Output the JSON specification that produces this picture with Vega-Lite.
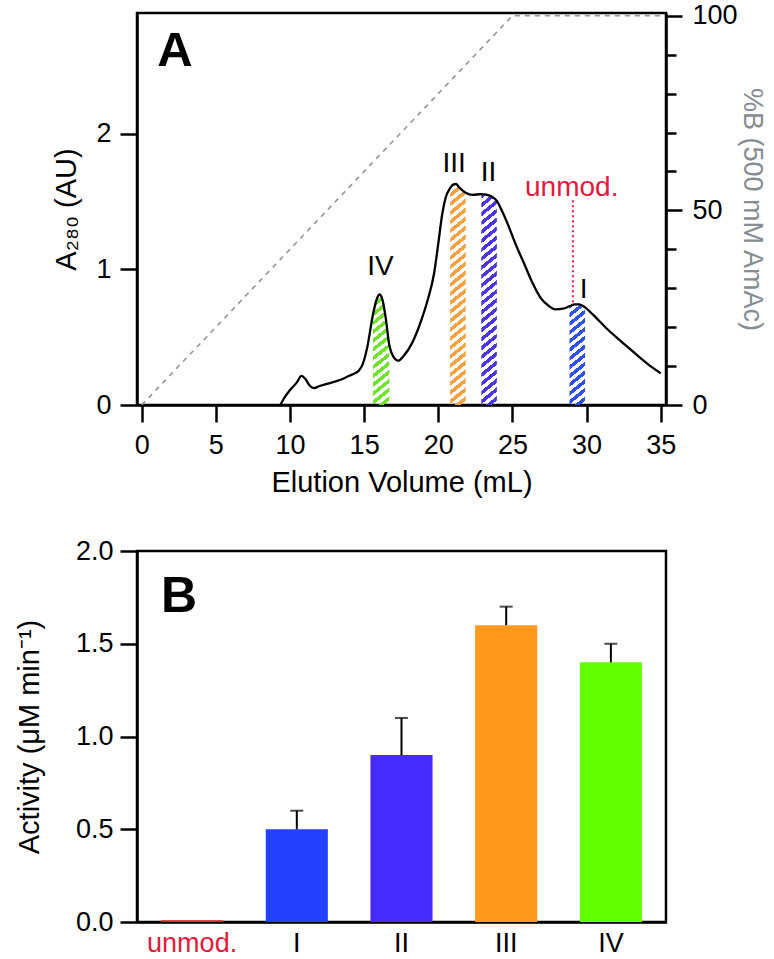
{
  "$schema": "https://vega.github.io/schema/vega-lite/v6.json",
  "background": "white",
  "padding": {"left": 14, "top": 0, "right": 0, "bottom": 0},
  "config": {
    "font": "Liberation Sans",
    "view": {"stroke": "black", "strokeWidth": 2.5},
    "axis": {"domainColor": "black", "domainWidth": 2.5, "tickColor": "black", "tickWidth": 2.5, "labelColor": "black", "titleColor": "black", "labelFont": "Liberation Sans", "titleFont": "Liberation Sans", "titleFontWeight": "normal", "labelFontSize": 27, "titleFontSize": 29, "grid": false}
  },
  "datasets": {
    "chromatogram": [
      {"volume": 9.35, "a280": 0}, {"volume": 9.6, "a280": 0.05}, {"volume": 10.0, "a280": 0.11}, {"volume": 10.45, "a280": 0.165},
      {"volume": 10.78, "a280": 0.215}, {"volume": 11.05, "a280": 0.19}, {"volume": 11.35, "a280": 0.14}, {"volume": 11.62, "a280": 0.125},
      {"volume": 12.0, "a280": 0.14}, {"volume": 12.85, "a280": 0.167}, {"volume": 13.5, "a280": 0.19}, {"volume": 14.0, "a280": 0.216},
      {"volume": 14.4, "a280": 0.235}, {"volume": 14.65, "a280": 0.255}, {"volume": 14.9, "a280": 0.3}, {"volume": 15.21, "a280": 0.425},
      {"volume": 15.6, "a280": 0.67}, {"volume": 15.85, "a280": 0.78}, {"volume": 16.05, "a280": 0.815}, {"volume": 16.25, "a280": 0.77},
      {"volume": 16.45, "a280": 0.646}, {"volume": 16.7, "a280": 0.44}, {"volume": 16.95, "a280": 0.36}, {"volume": 17.3, "a280": 0.327},
      {"volume": 17.65, "a280": 0.36}, {"volume": 18.25, "a280": 0.46}, {"volume": 18.92, "a280": 0.646}, {"volume": 19.3, "a280": 0.78},
      {"volume": 19.71, "a280": 0.966}, {"volume": 20.0, "a280": 1.19}, {"volume": 20.27, "a280": 1.41}, {"volume": 20.5, "a280": 1.53},
      {"volume": 20.8, "a280": 1.6}, {"volume": 21.0, "a280": 1.625}, {"volume": 21.2, "a280": 1.63}, {"volume": 21.45, "a280": 1.6},
      {"volume": 21.85, "a280": 1.565}, {"volume": 22.3, "a280": 1.55}, {"volume": 22.9, "a280": 1.555}, {"volume": 23.3, "a280": 1.55},
      {"volume": 23.65, "a280": 1.535}, {"volume": 23.95, "a280": 1.505}, {"volume": 24.3, "a280": 1.43}, {"volume": 24.7, "a280": 1.33},
      {"volume": 25.2, "a280": 1.19}, {"volume": 25.8, "a280": 1.04}, {"volume": 26.4, "a280": 0.89}, {"volume": 26.9, "a280": 0.79},
      {"volume": 27.46, "a280": 0.73}, {"volume": 27.9, "a280": 0.705}, {"volume": 28.4, "a280": 0.71}, {"volume": 28.85, "a280": 0.728},
      {"volume": 29.2, "a280": 0.742}, {"volume": 29.5, "a280": 0.742}, {"volume": 29.9, "a280": 0.72}, {"volume": 30.4, "a280": 0.67},
      {"volume": 31.3, "a280": 0.57}, {"volume": 32.0, "a280": 0.5}, {"volume": 32.86, "a280": 0.42}, {"volume": 33.6, "a280": 0.35},
      {"volume": 34.43, "a280": 0.277}, {"volume": 35.0, "a280": 0.233}
    ],
    "gradient": [
      {"volume": 0, "percent_b": 0}, {"volume": 25, "percent_b": 100}, {"volume": 35, "percent_b": 100}
    ],
    "peaks": [
      {"label": "IV", "volume": 16.1, "a280": 1.02},
      {"label": "III", "volume": 21.07, "a280": 1.78},
      {"label": "II", "volume": 23.39, "a280": 1.71},
      {"label": "unmod.", "volume": 29.0, "a280": 1.6},
      {"label": "I", "volume": 29.8, "a280": 0.85}
    ],
    "marker": [{"volume": 29.08, "a280": 1.51, "a280_low": 0.745}],
    "panelA": [{"label": "A", "volume": 1.05, "a280": 2.61}],
    "activity": [
      {"fraction": "unmod.", "activity": 0.01, "upper": 0.01},
      {"fraction": "I", "activity": 0.5, "upper": 0.6},
      {"fraction": "II", "activity": 0.9, "upper": 1.1},
      {"fraction": "III", "activity": 1.6, "upper": 1.7},
      {"fraction": "IV", "activity": 1.4, "upper": 1.5}
    ],
    "panelB": [{"fraction": "unmod.", "activity": 1.754, "label": "B"}]
  },
  "spacing": 36,
  "vconcat": [
    {
      "width": 529,
      "height": 392,
      "encoding": {
        "x": {"field": "volume", "type": "quantitative", "scale": {"domain": [-0.317, 35.357], "nice": false, "zero": false},
              "axis": {"values": [0, 5, 10, 15, 20, 25, 30, 35], "tickSize": 17, "labelPadding": 10, "titlePadding": 10},
              "title": "Elution Volume (mL)"}
      },
      "layer": [
        {
          "encoding": {
            "y": {"field": "a280", "type": "quantitative", "scale": {"domain": [0, 2.891], "nice": false},
                  "axis": {"values": [0, 1, 2], "format": "d", "tickSize": 17, "labelPadding": 9, "titlePadding": 14},
                  "title": "A₂₈₀ (AU)"}
          },
          "layer": [
            {
              "data": {"name": "chromatogram"},
              "transform": [{"filter": {"field": "volume", "range": [15.6, 16.7]}}],
              "mark": {"type": "area", "interpolate": "monotone", "fill": {"gradient": "linear", "x1": 0, "y1": 0, "x2": 0.1288, "y2": 1.1019, "stops": [
                {"offset": 0, "color": "#6fe22a"}, {"offset": 0.0357, "color": "#6fe22a"}, {"offset": 0.0357, "color": "transparent"}, {"offset": 0.0714, "color": "transparent"},
                {"offset": 0.0714, "color": "#6fe22a"}, {"offset": 0.1071, "color": "#6fe22a"}, {"offset": 0.1071, "color": "transparent"}, {"offset": 0.1429, "color": "transparent"},
                {"offset": 0.1429, "color": "#6fe22a"}, {"offset": 0.1786, "color": "#6fe22a"}, {"offset": 0.1786, "color": "transparent"}, {"offset": 0.2143, "color": "transparent"},
                {"offset": 0.2143, "color": "#6fe22a"}, {"offset": 0.25, "color": "#6fe22a"}, {"offset": 0.25, "color": "transparent"}, {"offset": 0.2857, "color": "transparent"},
                {"offset": 0.2857, "color": "#6fe22a"}, {"offset": 0.3214, "color": "#6fe22a"}, {"offset": 0.3214, "color": "transparent"}, {"offset": 0.3571, "color": "transparent"},
                {"offset": 0.3571, "color": "#6fe22a"}, {"offset": 0.3929, "color": "#6fe22a"}, {"offset": 0.3929, "color": "transparent"}, {"offset": 0.4286, "color": "transparent"},
                {"offset": 0.4286, "color": "#6fe22a"}, {"offset": 0.4643, "color": "#6fe22a"}, {"offset": 0.4643, "color": "transparent"}, {"offset": 0.5, "color": "transparent"},
                {"offset": 0.5, "color": "#6fe22a"}, {"offset": 0.5357, "color": "#6fe22a"}, {"offset": 0.5357, "color": "transparent"}, {"offset": 0.5714, "color": "transparent"},
                {"offset": 0.5714, "color": "#6fe22a"}, {"offset": 0.6071, "color": "#6fe22a"}, {"offset": 0.6071, "color": "transparent"}, {"offset": 0.6429, "color": "transparent"},
                {"offset": 0.6429, "color": "#6fe22a"}, {"offset": 0.6786, "color": "#6fe22a"}, {"offset": 0.6786, "color": "transparent"}, {"offset": 0.7143, "color": "transparent"},
                {"offset": 0.7143, "color": "#6fe22a"}, {"offset": 0.75, "color": "#6fe22a"}, {"offset": 0.75, "color": "transparent"}, {"offset": 0.7857, "color": "transparent"},
                {"offset": 0.7857, "color": "#6fe22a"}, {"offset": 0.8214, "color": "#6fe22a"}, {"offset": 0.8214, "color": "transparent"}, {"offset": 0.8571, "color": "transparent"},
                {"offset": 0.8571, "color": "#6fe22a"}, {"offset": 0.8929, "color": "#6fe22a"}, {"offset": 0.8929, "color": "transparent"}, {"offset": 0.9286, "color": "transparent"},
                {"offset": 0.9286, "color": "#6fe22a"}, {"offset": 0.9643, "color": "#6fe22a"}, {"offset": 0.9643, "color": "transparent"}, {"offset": 1, "color": "transparent"}
              ]}},
              "encoding": {"y2": {"datum": 0}}
            },
            {
              "data": {"name": "chromatogram"},
              "transform": [{"filter": {"field": "volume", "range": [20.8, 21.85]}}],
              "mark": {"type": "area", "interpolate": "monotone", "fill": {"gradient": "linear", "x1": 0, "y1": 0, "x2": 0.0596, "y2": 1.0533, "stops": [
                {"offset": 0, "color": "#f7a040"}, {"offset": 0.0192, "color": "#f7a040"}, {"offset": 0.0192, "color": "transparent"}, {"offset": 0.0385, "color": "transparent"},
                {"offset": 0.0385, "color": "#f7a040"}, {"offset": 0.0577, "color": "#f7a040"}, {"offset": 0.0577, "color": "transparent"}, {"offset": 0.0769, "color": "transparent"},
                {"offset": 0.0769, "color": "#f7a040"}, {"offset": 0.0962, "color": "#f7a040"}, {"offset": 0.0962, "color": "transparent"}, {"offset": 0.1154, "color": "transparent"},
                {"offset": 0.1154, "color": "#f7a040"}, {"offset": 0.1346, "color": "#f7a040"}, {"offset": 0.1346, "color": "transparent"}, {"offset": 0.1538, "color": "transparent"},
                {"offset": 0.1538, "color": "#f7a040"}, {"offset": 0.1731, "color": "#f7a040"}, {"offset": 0.1731, "color": "transparent"}, {"offset": 0.1923, "color": "transparent"},
                {"offset": 0.1923, "color": "#f7a040"}, {"offset": 0.2115, "color": "#f7a040"}, {"offset": 0.2115, "color": "transparent"}, {"offset": 0.2308, "color": "transparent"},
                {"offset": 0.2308, "color": "#f7a040"}, {"offset": 0.25, "color": "#f7a040"}, {"offset": 0.25, "color": "transparent"}, {"offset": 0.2692, "color": "transparent"},
                {"offset": 0.2692, "color": "#f7a040"}, {"offset": 0.2885, "color": "#f7a040"}, {"offset": 0.2885, "color": "transparent"}, {"offset": 0.3077, "color": "transparent"},
                {"offset": 0.3077, "color": "#f7a040"}, {"offset": 0.3269, "color": "#f7a040"}, {"offset": 0.3269, "color": "transparent"}, {"offset": 0.3462, "color": "transparent"},
                {"offset": 0.3462, "color": "#f7a040"}, {"offset": 0.3654, "color": "#f7a040"}, {"offset": 0.3654, "color": "transparent"}, {"offset": 0.3846, "color": "transparent"},
                {"offset": 0.3846, "color": "#f7a040"}, {"offset": 0.4038, "color": "#f7a040"}, {"offset": 0.4038, "color": "transparent"}, {"offset": 0.4231, "color": "transparent"},
                {"offset": 0.4231, "color": "#f7a040"}, {"offset": 0.4423, "color": "#f7a040"}, {"offset": 0.4423, "color": "transparent"}, {"offset": 0.4615, "color": "transparent"},
                {"offset": 0.4615, "color": "#f7a040"}, {"offset": 0.4808, "color": "#f7a040"}, {"offset": 0.4808, "color": "transparent"}, {"offset": 0.5, "color": "transparent"},
                {"offset": 0.5, "color": "#f7a040"}, {"offset": 0.5192, "color": "#f7a040"}, {"offset": 0.5192, "color": "transparent"}, {"offset": 0.5385, "color": "transparent"},
                {"offset": 0.5385, "color": "#f7a040"}, {"offset": 0.5577, "color": "#f7a040"}, {"offset": 0.5577, "color": "transparent"}, {"offset": 0.5769, "color": "transparent"},
                {"offset": 0.5769, "color": "#f7a040"}, {"offset": 0.5962, "color": "#f7a040"}, {"offset": 0.5962, "color": "transparent"}, {"offset": 0.6154, "color": "transparent"},
                {"offset": 0.6154, "color": "#f7a040"}, {"offset": 0.6346, "color": "#f7a040"}, {"offset": 0.6346, "color": "transparent"}, {"offset": 0.6538, "color": "transparent"},
                {"offset": 0.6538, "color": "#f7a040"}, {"offset": 0.6731, "color": "#f7a040"}, {"offset": 0.6731, "color": "transparent"}, {"offset": 0.6923, "color": "transparent"},
                {"offset": 0.6923, "color": "#f7a040"}, {"offset": 0.7115, "color": "#f7a040"}, {"offset": 0.7115, "color": "transparent"}, {"offset": 0.7308, "color": "transparent"},
                {"offset": 0.7308, "color": "#f7a040"}, {"offset": 0.75, "color": "#f7a040"}, {"offset": 0.75, "color": "transparent"}, {"offset": 0.7692, "color": "transparent"},
                {"offset": 0.7692, "color": "#f7a040"}, {"offset": 0.7885, "color": "#f7a040"}, {"offset": 0.7885, "color": "transparent"}, {"offset": 0.8077, "color": "transparent"},
                {"offset": 0.8077, "color": "#f7a040"}, {"offset": 0.8269, "color": "#f7a040"}, {"offset": 0.8269, "color": "transparent"}, {"offset": 0.8462, "color": "transparent"},
                {"offset": 0.8462, "color": "#f7a040"}, {"offset": 0.8654, "color": "#f7a040"}, {"offset": 0.8654, "color": "transparent"}, {"offset": 0.8846, "color": "transparent"},
                {"offset": 0.8846, "color": "#f7a040"}, {"offset": 0.9038, "color": "#f7a040"}, {"offset": 0.9038, "color": "transparent"}, {"offset": 0.9231, "color": "transparent"},
                {"offset": 0.9231, "color": "#f7a040"}, {"offset": 0.9423, "color": "#f7a040"}, {"offset": 0.9423, "color": "transparent"}, {"offset": 0.9615, "color": "transparent"},
                {"offset": 0.9615, "color": "#f7a040"}, {"offset": 0.9808, "color": "#f7a040"}, {"offset": 0.9808, "color": "transparent"}, {"offset": 1, "color": "transparent"}
              ]}},
              "encoding": {"y2": {"datum": 0}}
            },
            {
              "data": {"name": "chromatogram"},
              "transform": [{"filter": {"field": "volume", "range": [22.9, 23.95]}}],
              "mark": {"type": "area", "interpolate": "monotone", "fill": {"gradient": "linear", "x1": 0, "y1": 0, "x2": 0.0626, "y2": 1.0556, "stops": [
                {"offset": 0, "color": "#4a35e8"}, {"offset": 0.02, "color": "#4a35e8"}, {"offset": 0.02, "color": "transparent"}, {"offset": 0.04, "color": "transparent"},
                {"offset": 0.04, "color": "#4a35e8"}, {"offset": 0.06, "color": "#4a35e8"}, {"offset": 0.06, "color": "transparent"}, {"offset": 0.08, "color": "transparent"},
                {"offset": 0.08, "color": "#4a35e8"}, {"offset": 0.1, "color": "#4a35e8"}, {"offset": 0.1, "color": "transparent"}, {"offset": 0.12, "color": "transparent"},
                {"offset": 0.12, "color": "#4a35e8"}, {"offset": 0.14, "color": "#4a35e8"}, {"offset": 0.14, "color": "transparent"}, {"offset": 0.16, "color": "transparent"},
                {"offset": 0.16, "color": "#4a35e8"}, {"offset": 0.18, "color": "#4a35e8"}, {"offset": 0.18, "color": "transparent"}, {"offset": 0.2, "color": "transparent"},
                {"offset": 0.2, "color": "#4a35e8"}, {"offset": 0.22, "color": "#4a35e8"}, {"offset": 0.22, "color": "transparent"}, {"offset": 0.24, "color": "transparent"},
                {"offset": 0.24, "color": "#4a35e8"}, {"offset": 0.26, "color": "#4a35e8"}, {"offset": 0.26, "color": "transparent"}, {"offset": 0.28, "color": "transparent"},
                {"offset": 0.28, "color": "#4a35e8"}, {"offset": 0.3, "color": "#4a35e8"}, {"offset": 0.3, "color": "transparent"}, {"offset": 0.32, "color": "transparent"},
                {"offset": 0.32, "color": "#4a35e8"}, {"offset": 0.34, "color": "#4a35e8"}, {"offset": 0.34, "color": "transparent"}, {"offset": 0.36, "color": "transparent"},
                {"offset": 0.36, "color": "#4a35e8"}, {"offset": 0.38, "color": "#4a35e8"}, {"offset": 0.38, "color": "transparent"}, {"offset": 0.4, "color": "transparent"},
                {"offset": 0.4, "color": "#4a35e8"}, {"offset": 0.42, "color": "#4a35e8"}, {"offset": 0.42, "color": "transparent"}, {"offset": 0.44, "color": "transparent"},
                {"offset": 0.44, "color": "#4a35e8"}, {"offset": 0.46, "color": "#4a35e8"}, {"offset": 0.46, "color": "transparent"}, {"offset": 0.48, "color": "transparent"},
                {"offset": 0.48, "color": "#4a35e8"}, {"offset": 0.5, "color": "#4a35e8"}, {"offset": 0.5, "color": "transparent"}, {"offset": 0.52, "color": "transparent"},
                {"offset": 0.52, "color": "#4a35e8"}, {"offset": 0.54, "color": "#4a35e8"}, {"offset": 0.54, "color": "transparent"}, {"offset": 0.56, "color": "transparent"},
                {"offset": 0.56, "color": "#4a35e8"}, {"offset": 0.58, "color": "#4a35e8"}, {"offset": 0.58, "color": "transparent"}, {"offset": 0.6, "color": "transparent"},
                {"offset": 0.6, "color": "#4a35e8"}, {"offset": 0.62, "color": "#4a35e8"}, {"offset": 0.62, "color": "transparent"}, {"offset": 0.64, "color": "transparent"},
                {"offset": 0.64, "color": "#4a35e8"}, {"offset": 0.66, "color": "#4a35e8"}, {"offset": 0.66, "color": "transparent"}, {"offset": 0.68, "color": "transparent"},
                {"offset": 0.68, "color": "#4a35e8"}, {"offset": 0.7, "color": "#4a35e8"}, {"offset": 0.7, "color": "transparent"}, {"offset": 0.72, "color": "transparent"},
                {"offset": 0.72, "color": "#4a35e8"}, {"offset": 0.74, "color": "#4a35e8"}, {"offset": 0.74, "color": "transparent"}, {"offset": 0.76, "color": "transparent"},
                {"offset": 0.76, "color": "#4a35e8"}, {"offset": 0.78, "color": "#4a35e8"}, {"offset": 0.78, "color": "transparent"}, {"offset": 0.8, "color": "transparent"},
                {"offset": 0.8, "color": "#4a35e8"}, {"offset": 0.82, "color": "#4a35e8"}, {"offset": 0.82, "color": "transparent"}, {"offset": 0.84, "color": "transparent"},
                {"offset": 0.84, "color": "#4a35e8"}, {"offset": 0.86, "color": "#4a35e8"}, {"offset": 0.86, "color": "transparent"}, {"offset": 0.88, "color": "transparent"},
                {"offset": 0.88, "color": "#4a35e8"}, {"offset": 0.9, "color": "#4a35e8"}, {"offset": 0.9, "color": "transparent"}, {"offset": 0.92, "color": "transparent"},
                {"offset": 0.92, "color": "#4a35e8"}, {"offset": 0.94, "color": "#4a35e8"}, {"offset": 0.94, "color": "transparent"}, {"offset": 0.96, "color": "transparent"},
                {"offset": 0.96, "color": "#4a35e8"}, {"offset": 0.98, "color": "#4a35e8"}, {"offset": 0.98, "color": "transparent"}, {"offset": 1, "color": "transparent"}
              ]}},
              "encoding": {"y2": {"datum": 0}}
            },
            {
              "data": {"name": "chromatogram"},
              "transform": [{"filter": {"field": "volume", "range": [28.85, 29.9]}}],
              "mark": {"type": "area", "interpolate": "monotone", "fill": {"gradient": "linear", "x1": 0, "y1": 0, "x2": 0.137, "y2": 1.1069, "stops": [
                {"offset": 0, "color": "#2f50ee"}, {"offset": 0.0385, "color": "#2f50ee"}, {"offset": 0.0385, "color": "transparent"}, {"offset": 0.0769, "color": "transparent"},
                {"offset": 0.0769, "color": "#2f50ee"}, {"offset": 0.1154, "color": "#2f50ee"}, {"offset": 0.1154, "color": "transparent"}, {"offset": 0.1538, "color": "transparent"},
                {"offset": 0.1538, "color": "#2f50ee"}, {"offset": 0.1923, "color": "#2f50ee"}, {"offset": 0.1923, "color": "transparent"}, {"offset": 0.2308, "color": "transparent"},
                {"offset": 0.2308, "color": "#2f50ee"}, {"offset": 0.2692, "color": "#2f50ee"}, {"offset": 0.2692, "color": "transparent"}, {"offset": 0.3077, "color": "transparent"},
                {"offset": 0.3077, "color": "#2f50ee"}, {"offset": 0.3462, "color": "#2f50ee"}, {"offset": 0.3462, "color": "transparent"}, {"offset": 0.3846, "color": "transparent"},
                {"offset": 0.3846, "color": "#2f50ee"}, {"offset": 0.4231, "color": "#2f50ee"}, {"offset": 0.4231, "color": "transparent"}, {"offset": 0.4615, "color": "transparent"},
                {"offset": 0.4615, "color": "#2f50ee"}, {"offset": 0.5, "color": "#2f50ee"}, {"offset": 0.5, "color": "transparent"}, {"offset": 0.5385, "color": "transparent"},
                {"offset": 0.5385, "color": "#2f50ee"}, {"offset": 0.5769, "color": "#2f50ee"}, {"offset": 0.5769, "color": "transparent"}, {"offset": 0.6154, "color": "transparent"},
                {"offset": 0.6154, "color": "#2f50ee"}, {"offset": 0.6538, "color": "#2f50ee"}, {"offset": 0.6538, "color": "transparent"}, {"offset": 0.6923, "color": "transparent"},
                {"offset": 0.6923, "color": "#2f50ee"}, {"offset": 0.7308, "color": "#2f50ee"}, {"offset": 0.7308, "color": "transparent"}, {"offset": 0.7692, "color": "transparent"},
                {"offset": 0.7692, "color": "#2f50ee"}, {"offset": 0.8077, "color": "#2f50ee"}, {"offset": 0.8077, "color": "transparent"}, {"offset": 0.8462, "color": "transparent"},
                {"offset": 0.8462, "color": "#2f50ee"}, {"offset": 0.8846, "color": "#2f50ee"}, {"offset": 0.8846, "color": "transparent"}, {"offset": 0.9231, "color": "transparent"},
                {"offset": 0.9231, "color": "#2f50ee"}, {"offset": 0.9615, "color": "#2f50ee"}, {"offset": 0.9615, "color": "transparent"}, {"offset": 1, "color": "transparent"}
              ]}},
              "encoding": {"y2": {"datum": 0}}
            },
            {
              "data": {"name": "chromatogram"},
              "mark": {"type": "line", "interpolate": "monotone", "color": "black", "strokeWidth": 2.3},
              "encoding": {}
            },
            {
              "data": {"name": "marker"},
              "mark": {"type": "rule", "color": "#e31b3d", "strokeWidth": 2, "strokeDash": [2, 3]},
              "encoding": {"y2": {"field": "a280_low"}}
            },
            {
              "data": {"name": "peaks"},
              "mark": {"type": "text", "align": "center", "baseline": "middle", "fontSize": 28},
              "encoding": {
                "text": {"field": "label"},
                "color": {"condition": {"test": "datum.label === 'unmod.'", "value": "#e31b3d"}, "value": "black"}
              }
            },
            {
              "data": {"name": "panelA"},
              "mark": {"type": "text", "align": "left", "baseline": "middle", "fontSize": 49, "fontWeight": "bold", "color": "black"},
              "encoding": {"text": {"field": "label"}}
            }
          ]
        },
        {
          "data": {"name": "gradient"},
          "mark": {"type": "line", "color": "#8c979c", "strokeWidth": 1.6, "strokeDash": [5, 5]},
          "encoding": {
            "y": {"field": "percent_b", "type": "quantitative", "scale": {"domain": [0, 100.7], "nice": false},
                  "axis": {"orient": "right", "values": [0, 10, 20, 30, 40, 50, 60, 70, 80, 90, 100],
                           "labelExpr": "datum.value % 50 === 0 ? datum.label : ''",
                           "tickSize": {"condition": {"test": "datum.value % 50 === 0", "value": 16}, "value": 10},
                           "labelPadding": 10, "titleColor": "#838d92", "titlePadding": 0, "titleFontSize": 27},
                  "title": "%B (500 mM AmAc)"}
          }
        }
      ],
      "resolve": {"scale": {"y": "independent"}}
    },
    {
      "width": 529,
      "height": 371,
      "data": {"name": "activity"},
      "encoding": {
        "x": {"field": "fraction", "type": "nominal", "sort": ["unmod.", "I", "II", "III", "IV"],
              "scale": {"paddingInner": 0.407, "paddingOuter": 0.23},
              "axis": {"title": null, "ticks": false, "labelAngle": 0, "labelPadding": 8,
                       "labelColor": {"expr": "datum.value === 'unmod.' ? '#e31b3d' : 'black'"}}}
      },
      "layer": [
        {
          "mark": {"type": "bar"},
          "encoding": {
            "y": {"field": "activity", "type": "quantitative", "scale": {"domain": [0, 2], "nice": false},
                  "axis": {"values": [0, 0.5, 1, 1.5, 2], "format": ".1f", "tickSize": 17, "labelPadding": 7, "titlePadding": 31},
                  "title": "Activity (μM min⁻¹)"},
            "color": {"field": "fraction", "type": "nominal",
                      "scale": {"domain": ["unmod.", "I", "II", "III", "IV"], "range": ["#e8202e", "#2440ff", "#472aff", "#ff991e", "#62ff00"]},
                      "legend": null}
          }
        },
        {
          "transform": [{"filter": "datum.upper > datum.activity"}],
          "mark": {"type": "rule", "color": "black", "strokeWidth": 2},
          "encoding": {
            "y": {"field": "activity", "type": "quantitative", "title": "Activity (μM min⁻¹)"},
            "y2": {"field": "upper"}
          }
        },
        {
          "transform": [{"filter": "datum.upper > datum.activity"}],
          "mark": {"type": "tick", "color": "black", "size": 13, "thickness": 2},
          "encoding": {
            "y": {"field": "upper", "type": "quantitative", "title": "Activity (μM min⁻¹)"}
          }
        },
        {
          "data": {"name": "panelB"},
          "mark": {"type": "text", "align": "left", "baseline": "middle", "fontSize": 50, "fontWeight": "bold", "color": "black"},
          "encoding": {
            "x": {"field": "fraction", "type": "nominal", "sort": ["unmod.", "I", "II", "III", "IV"], "bandPosition": 0},
            "y": {"field": "activity", "type": "quantitative", "title": "Activity (μM min⁻¹)"},
            "text": {"field": "label"}
          }
        }
      ]
    }
  ]
}
